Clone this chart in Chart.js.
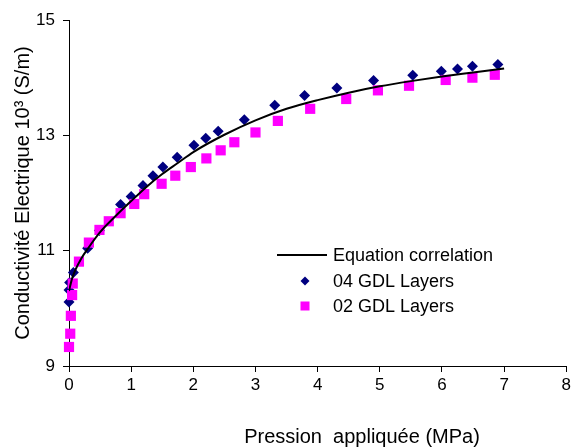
<!DOCTYPE html>
<html>
<head>
<meta charset="utf-8">
<script src="https://cdn.jsdelivr.net/npm/chart.js@4.4.1/dist/chart.umd.min.js"></script>
<style>
  html, body { margin: 0; padding: 0; background: #fff; }
  #wrap { width: 574px; height: 448px; }
</style>
</head>
<body>
<div id="wrap"><canvas id="chart" width="574" height="448"></canvas></div>
<script>
// values
var pressure04 = [0, 0, 0.01, 0.07, 0.3, 0.49, 0.83, 1.0, 1.19, 1.35, 1.51, 1.74, 2.01, 2.20, 2.40, 2.82, 3.31, 3.79, 4.31, 4.90, 5.53, 5.99, 6.25, 6.49, 6.90];
var cond04 = [10.11, 10.32, 10.45, 10.62, 11.04, 11.35, 11.80, 11.94, 12.13, 12.30, 12.45, 12.62, 12.83, 12.95, 13.07, 13.27, 13.52, 13.69, 13.82, 13.95, 14.04, 14.11, 14.15, 14.20, 14.23];

var pressure02 = [0, 0.02, 0.03, 0.05, 0.06, 0.16, 0.32, 0.49, 0.64, 0.83, 1.05, 1.21, 1.49, 1.71, 1.96, 2.21, 2.44, 2.66, 3.00, 3.36, 3.88, 4.46, 4.97, 5.47, 6.06, 6.49, 6.85];
var cond02 = [9.33, 9.56, 9.87, 10.23, 10.43, 10.81, 11.14, 11.36, 11.51, 11.65, 11.81, 11.98, 12.16, 12.30, 12.45, 12.60, 12.74, 12.88, 13.05, 13.25, 13.46, 13.63, 13.78, 13.86, 13.96, 14.00, 14.05];

var pressureFit = [0, 0.05, 0.1, 0.2, 0.3, 0.5, 0.75, 1.0, 1.25, 1.5, 1.75, 2.0, 2.5, 3.0, 3.5, 4.0, 4.5, 5.0, 5.5, 6.0, 6.5, 7.0];
var condFit = [10.30, 10.52, 10.66, 10.87, 11.03, 11.32, 11.60, 11.86, 12.11, 12.33, 12.52, 12.71, 13.01, 13.26, 13.46, 13.61, 13.74, 13.85, 13.94, 14.02, 14.09, 14.16];

var xTicks = [0, 1, 2, 3, 4, 5, 6, 7, 8];
var yTicks = [9, 11, 13, 15];

var labels = ['Equation correlation', '04 GDL Layers', '02 GDL Layers'];
var xTitle = 'Pression  appliquée (MPa)';
var yTitle = 'Conductivité Electrique 10³ (S/m)';

function toPoints(xs, ys) {
    return xs.map(function (x, i) { return { x: x, y: ys[i] }; });
}

var FONT = '"Liberation Sans", Arial, sans-serif';

// legend + x title drawn by hand to sit where the original has them
var extras = {
    id: 'extras',
    afterDraw: function (chart) {
        var ctx = chart.ctx;
        ctx.save();
        ctx.fillStyle = '#000';
        ctx.font = '20px ' + FONT;
        ctx.textAlign = 'center';
        ctx.textBaseline = 'middle';
        ctx.fillText(xTitle, 362, 437);

        ctx.font = '18px ' + FONT;
        ctx.textAlign = 'left';
        // line sample
        ctx.strokeStyle = '#000';
        ctx.lineWidth = 2;
        ctx.beginPath();
        ctx.moveTo(277, 255);
        ctx.lineTo(327, 255);
        ctx.stroke();
        ctx.fillText(labels[0], 333, 256);
        // diamond
        ctx.fillStyle = '#000080';
        ctx.beginPath();
        ctx.moveTo(305, 276.5);
        ctx.lineTo(309.5, 281);
        ctx.lineTo(305, 285.5);
        ctx.lineTo(300.5, 281);
        ctx.closePath();
        ctx.fill();
        ctx.fillStyle = '#000';
        ctx.fillText(labels[1], 333, 282);
        // square
        ctx.fillStyle = '#ff00ff';
        ctx.fillRect(300.5, 301.5, 9, 9);
        ctx.fillStyle = '#000';
        ctx.fillText(labels[2], 333, 307);
        ctx.restore();
    }
};

var ctx = document.getElementById('chart').getContext('2d');
var myChart = new Chart(ctx, {
    type: 'scatter',
    data: {
        datasets: [{
            label: labels[0],
            data: toPoints(pressureFit, condFit),
            showLine: true,
            borderColor: '#000',
            borderWidth: 2,
            pointRadius: 0,
            cubicInterpolationMode: 'monotone',
            order: 0
        }, {
            label: labels[1],
            data: toPoints(pressure04, cond04),
            pointStyle: 'rectRot',
            pointRadius: 5.5,
            backgroundColor: '#000080',
            borderColor: '#000080',
            borderWidth: 0,
            clip: false,
            order: 2
        }, {
            label: labels[2],
            data: toPoints(pressure02, cond02),
            pointStyle: 'rect',
            pointRadius: 7.2,
            backgroundColor: '#ff00ff',
            borderColor: '#ff00ff',
            borderWidth: 0,
            clip: false,
            order: 1
        }]
    },
    options: {
        responsive: false,
        animation: false,
        layout: {
            padding: { left: 0, top: 20, right: 7, bottom: 0 }
        },
        plugins: {
            legend: { display: false },
            tooltip: { enabled: false }
        },
        scales: {
            x: {
                type: 'linear',
                min: 0,
                max: 8,
                afterBuildTicks: function (scale) {
                    scale.ticks = xTicks.map(function (v) { return { value: v }; });
                },
                afterFit: function (scale) { scale.height = 82; },
                grid: { drawOnChartArea: false, drawTicks: true, tickLength: 6, color: '#000' },
                border: { color: '#000', width: 1 },
                ticks: { color: '#000', padding: 3, font: { family: FONT, size: 17 } }
            },
            y: {
                type: 'linear',
                min: 9,
                max: 15,
                afterBuildTicks: function (scale) {
                    scale.ticks = yTicks.map(function (v) { return { value: v }; });
                },
                afterFit: function (scale) { scale.width = 69; },
                grid: { drawOnChartArea: false, drawTicks: true, tickLength: 6, color: '#000' },
                border: { color: '#000', width: 1 },
                ticks: { color: '#000', padding: 8, font: { family: FONT, size: 17 } },
                title: {
                    display: true,
                    text: yTitle,
                    color: '#000',
                    font: { family: FONT, size: 20 },
                    padding: { top: 11, bottom: 0 }
                }
            }
        }
    },
    plugins: [extras]
});
</script>
</body>
</html>
